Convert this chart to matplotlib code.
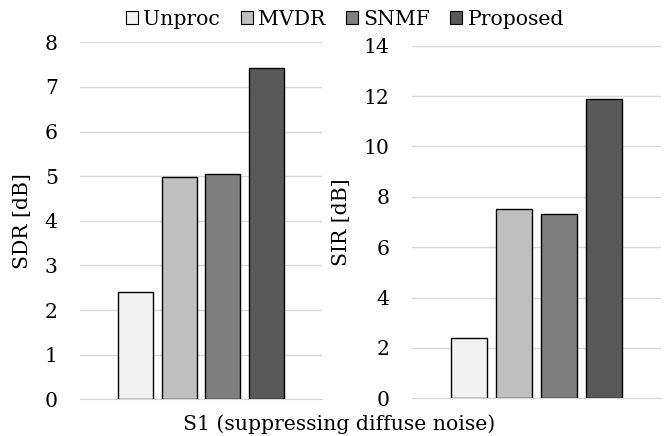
import matplotlib
matplotlib.use("Agg")
import matplotlib.pyplot as plt
import numpy as np
from matplotlib.patches import Patch

plt.rcParams['font.family'] = ['DejaVu Serif']

# data
methods = ['Unproc', 'MVDR', 'SNMF', 'Proposed']
colors = ['#f2f2f2', '#bfbfbf', '#7f7f7f', '#595959']
sdr = [2.4, 4.98, 5.05, 7.42]
sir = [2.4, 7.5, 7.3, 11.87]
xlabel = 'S1 (suppressing diffuse noise)'

fs = 14.7

fig = plt.figure(figsize=(6.7, 4.36), dpi=100)
ax1 = fig.add_axes([0.1194, 0.0842, 0.3612, 0.8188])
ax2 = fig.add_axes([0.6149, 0.0865, 0.3716, 0.8087])

offs = (np.arange(4) - 1.5) * 0.181

def draw(ax, vals, ymax, step, ylab):
    for i in range(4):
        ax.bar(offs[i], vals[i], width=0.144, color=colors[i],
               edgecolor='black', linewidth=1.0, zorder=3)
    ax.set_xlim(-0.5, 0.5)
    ax.set_ylim(0, ymax)
    ax.set_yticks(np.arange(0, ymax + 0.1, step))
    ax.grid(axis='y', color='#d9d9d9', linewidth=1.0, zorder=0)
    for s in ['top', 'right', 'left']:
        ax.spines[s].set_visible(False)
    ax.spines['bottom'].set_color('#d9d9d9')
    ax.set_xticks([])
    ax.tick_params(axis='y', length=0, pad=16, labelsize=fs)
    ax.set_ylabel(ylab, fontsize=fs, labelpad=9)

draw(ax1, sdr, 8, 1, 'SDR [dB]')
draw(ax2, sir, 14, 2, 'SIR [dB]')

fig.text(0.506, 0.028, xlabel, ha='center', va='center', fontsize=fs)

handles = [Patch(facecolor=c, edgecolor='black', linewidth=0.8) for c in colors]
fig.legend(handles, methods, loc='center', bbox_to_anchor=(0.515, 0.956), ncol=4,
           frameon=False, fontsize=fs, handlelength=0.6, handleheight=0.6,
           handletextpad=0.25, columnspacing=1.0)

plt.savefig('out.png', dpi=100)
